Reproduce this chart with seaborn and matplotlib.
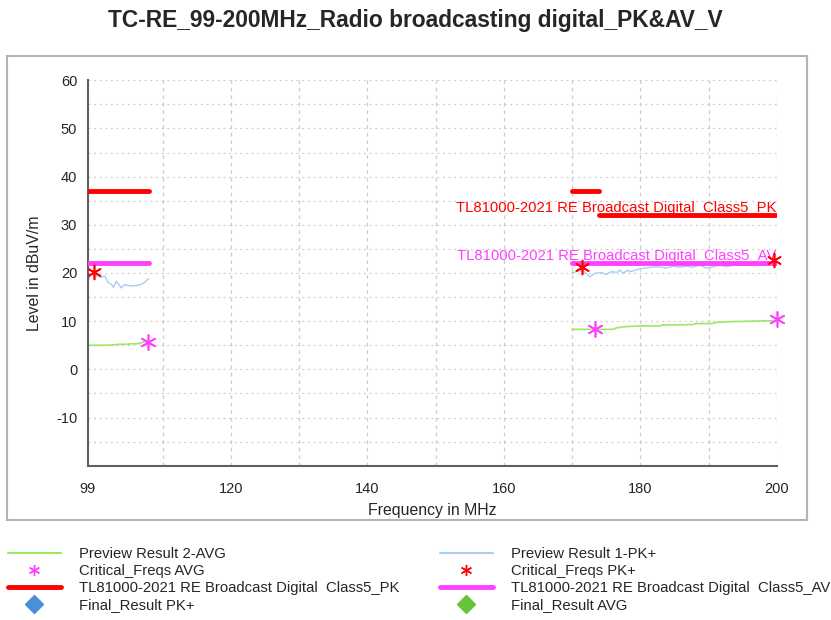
import numpy as np
import pandas as pd
import seaborn as sns
import matplotlib.pyplot as plt
from matplotlib.lines import Line2D
from matplotlib.patches import Rectangle

# =============================================================================
# DATA
# =============================================================================
pk_left_f = [99.0, 99.5, 100.3, 101.0, 101.5, 102.0, 102.5, 102.8, 103.2, 103.6,
             103.9, 104.4, 104.9, 105.4, 106.1, 106.8, 107.3, 107.9]
pk_left_v = [18.3, 19.7, 19.4, 19.1, 19.4, 18.0, 17.6, 17.0, 18.3, 17.6,
             16.9, 17.6, 17.4, 17.3, 17.4, 17.6, 18.0, 18.8]

pk_right_f = [169.9, 170.6, 171.5, 172.1, 172.6, 173.3, 174.3, 175.0, 175.8, 176.5,
              177.0, 177.5, 178.0, 178.7, 179.7, 180.6, 181.6, 182.8, 183.8, 184.8,
              185.8, 186.8, 187.7, 188.7, 189.7, 190.7, 191.6, 192.6, 193.6, 194.6,
              195.5, 196.5, 197.5, 198.5, 199.7]
pk_right_v = [19.9, 20.3, 20.6, 19.9, 19.2, 19.9, 20.1, 19.7, 20.3, 20.1,
              20.6, 19.9, 20.5, 20.3, 20.8, 21.0, 21.2, 21.3, 21.0, 21.4,
              21.2, 21.4, 21.2, 21.6, 21.0, 21.3, 21.6, 21.3, 21.6, 21.7,
              21.6, 21.9, 21.9, 22.1, 22.3]

avg_left_f = [99.0, 100.5, 102.0, 103.0, 103.5, 104.5, 105.5, 106.3, 106.8, 107.3, 107.9]
avg_left_v = [5.0, 5.0, 5.0, 5.1, 5.2, 5.2, 5.3, 5.3, 5.5, 5.7, 5.7]

avg_right_f = [170.0, 173.4, 176.0, 176.5, 177.7, 179.9, 182.8, 183.3, 187.7,
               188.2, 190.6, 191.0, 193.1, 199.4, 200.0]
avg_right_v = [8.3, 8.3, 8.3, 8.6, 8.85, 9.0, 9.0, 9.2, 9.3,
               9.5, 9.5, 9.7, 9.9, 10.1, 10.1]

crit_pk_f = [100.0, 171.4, 199.6]
crit_pk_v = [20.3, 21.2, 22.7]
crit_avg_f = [107.9, 173.4, 200.0]
crit_avg_v = [5.7, 8.4, 10.4]

pk_lim_f = [(99, 108), (170, 174), (174, 200)]
pk_lim_v = [37, 37, 32]
av_lim_f = [(99, 108), (170, 200)]
av_lim_v = [22, 22]

pk_label = 'TL81000-2021 RE Broadcast Digital  Class5_PK'
av_label = 'TL81000-2021 RE Broadcast Digital  Class5_AV'

c_green = '#9ae866'
c_blue = '#a8cdf5'
c_red = '#ff0000'
c_mag = '#ff40ff'

# =============================================================================
# PLOT
# =============================================================================
sns.set_style("white")
plt.rcParams['font.family'] = ['Liberation Sans', 'DejaVu Sans']

fig = plt.figure(figsize=(8.31, 6.2), dpi=100)
ax = fig.add_axes([0.1055, 0.2489, 0.8292, 0.6216])

# outer frame
fig.patches.append(Rectangle((0.0084, 0.1613), 0.9627, 0.748, transform=fig.transFigure,
                             fill=False, edgecolor='#b4b4b4', lw=1.5, zorder=0))

# limit lines
for (f0, f1), v in zip(pk_lim_f, pk_lim_v):
    sns.lineplot(x=[f0, f1], y=[v, v], color=c_red, lw=3.5, ax=ax, zorder=3)
for (f0, f1), v in zip(av_lim_f, av_lim_v):
    sns.lineplot(x=[f0, f1], y=[v, v], color=c_mag, lw=3.5, ax=ax, zorder=3)

# preview traces
sns.lineplot(x=pk_left_f, y=pk_left_v, color=c_blue, lw=1.0, ax=ax, zorder=2)
sns.lineplot(x=pk_right_f, y=pk_right_v, color=c_blue, lw=1.0, ax=ax, zorder=2)
sns.lineplot(x=avg_left_f, y=avg_left_v, color=c_green, lw=1.2, ax=ax, zorder=2)
sns.lineplot(x=avg_right_f, y=avg_right_v, color=c_green, lw=1.2, ax=ax, zorder=2)

# critical freqs
ax.scatter(crit_pk_f, crit_pk_v, marker=(6, 2, 0), s=100, color=c_red, lw=1.2,
           zorder=5, clip_on=False)
ax.scatter(crit_avg_f, crit_avg_v, marker=(6, 2, 0), s=120, color=c_mag, lw=1.2,
           zorder=5, clip_on=False)

# limit labels
ax.text(200, 32.7, pk_label, color=c_red, ha='right', va='baseline', fontsize=10.7, zorder=4)
ax.text(200, 22.6, av_label, color=c_mag, ha='right', va='baseline', fontsize=10.7, zorder=4)

# axes
ax.set_xlim(99, 200)
ax.set_ylim(-20, 60)
ax.set_xticks([99, 110, 120, 130, 140, 150, 160, 170, 180, 190, 200])
ax.set_xticklabels(['99', '', '120', '', '140', '', '160', '', '180', '', '200'])
ax.set_yticks(np.arange(-20, 61, 5))
ax.set_yticklabels(['' if (t % 10 or t == -20) else str(t) for t in range(-20, 61, 5)])
ax.tick_params(axis='x', direction='inout', length=9, width=1.2, color='#404040',
               labelsize=10.5, pad=7)
ax.tick_params(axis='y', direction='inout', length=12, width=1.2, color='#404040',
               labelsize=10.5, pad=1.5)
for s in ['top', 'right']:
    ax.spines[s].set_visible(False)
for s in ['left', 'bottom']:
    ax.spines[s].set_color('#606060')
    ax.spines[s].set_linewidth(1.5)

for t in np.arange(-15, 61, 5):
    ax.axhline(t, color='#cccccc', lw=0.9, ls=(0, (1.5, 3)), zorder=0)
for t in range(110, 201, 10):
    ax.axvline(t, color='#cccccc', lw=0.9, ls=(0, (3, 3)), zorder=0)

ax.set_xlabel('Frequency in MHz', fontsize=11.4, labelpad=5)
ax.set_ylabel('Level in dBuV/m', fontsize=11.4, labelpad=10)

fig.suptitle('TC-RE_99-200MHz_Radio broadcasting digital_PK&AV_V', fontsize=16.4,
             fontweight='bold', y=0.967, va='center')

# legend
col1 = [Line2D([], [], color=c_green, lw=1.5),
        Line2D([], [], color=c_mag, marker=(6, 2, 0), ms=8, ls='none'),
        Line2D([], [], color=c_red, lw=3.5),
        Line2D([], [], color='#4a90d9', marker='D', ms=9, ls='none')]
lab1 = ['Preview Result 2-AVG', 'Critical_Freqs AVG', pk_label, 'Final_Result PK+']
col2 = [Line2D([], [], color=c_blue, lw=1.5),
        Line2D([], [], color=c_red, marker=(6, 2, 0), ms=8, ls='none'),
        Line2D([], [], color=c_mag, lw=3.5),
        Line2D([], [], color='#66c43a', marker='D', ms=9, ls='none')]
lab2 = ['Preview Result 1-PK+', 'Critical_Freqs PK+', av_label, 'Final_Result AVG']
for h, l, x0 in [(col1, lab1, 8), (col2, lab2, 440)]:
    fig.legend(h, l, loc='upper left', bbox_to_anchor=(x0 / 831, 1 - 547 / 620),
               frameon=False, fontsize=10.7, handlelength=3.55, handletextpad=1.25,
               labelspacing=0.2, borderpad=0, borderaxespad=0)

plt.savefig('out.png', dpi=100)
